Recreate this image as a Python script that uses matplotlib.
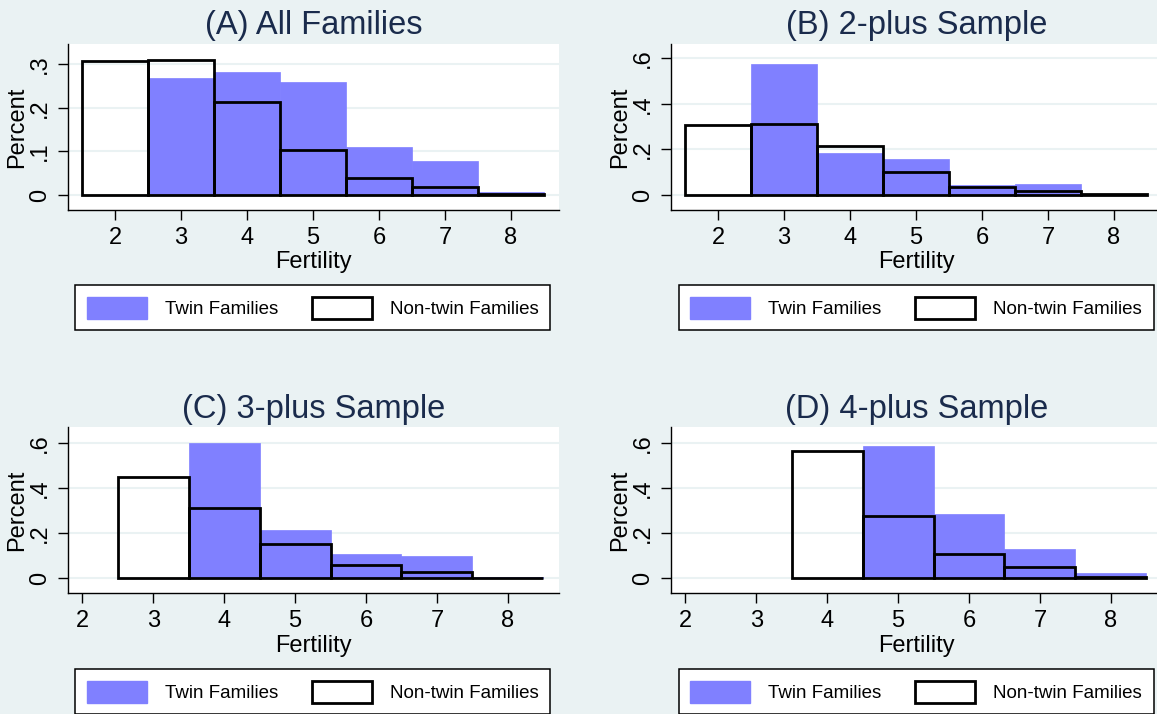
import matplotlib
matplotlib.use("Agg")
import matplotlib.pyplot as plt
from matplotlib.patches import Patch

plt.rcParams['font.family'] = ['Liberation Sans', 'DejaVu Sans']

# fertility values and histogram heights
fert_a = [2, 3, 4, 5, 6, 7, 8]
nontwin_a = [0.308, 0.311, 0.214, 0.103, 0.038, 0.019, 0.002]
fert_twin_a = [3, 4, 5, 6, 7, 8]
twin_a = [0.269, 0.283, 0.260, 0.111, 0.078, 0.006]

fert_b = [2, 3, 4, 5, 6, 7, 8]
nontwin_b = [0.308, 0.311, 0.214, 0.103, 0.037, 0.018, 0.003]
fert_twin_b = [3, 4, 5, 6, 7, 8]
twin_b = [0.573, 0.184, 0.159, 0.044, 0.049, 0.003]

fert_c = [3, 4, 5, 6, 7, 8]
nontwin_c = [0.450, 0.311, 0.154, 0.059, 0.028, 0.003]
fert_twin_c = [4, 5, 6, 7, 8]
twin_c = [0.600, 0.214, 0.109, 0.098, 0.004]

fert_d = [4, 5, 6, 7, 8]
nontwin_d = [0.565, 0.277, 0.106, 0.051, 0.007]
fert_twin_d = [5, 6, 7, 8]
twin_d = [0.584, 0.285, 0.129, 0.022]

titles = ['(A) All Families', '(B) 2-plus Sample', '(C) 3-plus Sample', '(D) 4-plus Sample']
xticks = [2, 3, 4, 5, 6, 7, 8]
yticks_small = [0, 0.1, 0.2, 0.3]
yticks_big = [0, 0.2, 0.4, 0.6]

bg = '#eaf2f3'
twin_col = '#8080ff'
title_col = '#1a2b4c'

W, H = 1157, 714
fig = plt.figure(figsize=(W / 100, H / 100), dpi=100, facecolor=bg)


def px_axes(x0, y0, x1, y1):
    # pixel box (from top-left) -> figure axes
    return fig.add_axes([x0 / W, 1 - y1 / H, (x1 - x0) / W, (y1 - y0) / H])


def tick_label(v):
    if v == 0:
        return '0'
    return ('%g' % v).lstrip('0')


panels = [
    (68, 44, 559, 210, fert_a, nontwin_a, fert_twin_a, twin_a, yticks_small, (-0.0344, 0.3466), (1.285, 8.73), (75.4, 286)),
    (671, 44, 1162, 210, fert_b, nontwin_b, fert_twin_b, twin_b, yticks_big, (-0.066, 0.663), (1.285, 8.73), (678.6, 286)),
    (68, 427.3, 559, 593.3, fert_c, nontwin_c, fert_twin_c, twin_c, yticks_big, (-0.066, 0.668), (1.8, 8.72), (75.4, 670)),
    (671, 427.3, 1162, 593.3, fert_d, nontwin_d, fert_twin_d, twin_d, yticks_big, (-0.066, 0.668), (1.8, 8.72), (678.6, 670)),
]

for i, (x0, y0, x1, y1, fx, nt, ftw, tw, yt, ylim, xlim, leg_pos) in enumerate(panels):
    ax = px_axes(x0, y0, x1, y1)
    ax.set_facecolor('white')
    ax.bar(ftw, tw, width=1, color=twin_col, edgecolor=twin_col, linewidth=0.5, zorder=2)
    ax.bar(fx, nt, width=1, fill=False, edgecolor='black', linewidth=2, zorder=3)

    ax.set_xlim(*xlim)
    ax.set_ylim(*ylim)
    ax.set_xticks(xticks)
    ax.set_yticks(yt)
    ax.set_yticklabels([tick_label(v) for v in yt], rotation=90, va='center')
    ax.tick_params(labelsize=17, length=7, width=1, color='black', pad=5)
    ax.grid(axis='y', color=bg, linewidth=1.5)
    ax.set_axisbelow(True)
    for s in ['top', 'right']:
        ax.spines[s].set_visible(False)
    for s in ['left', 'bottom']:
        ax.spines[s].set_linewidth(1)
        ax.spines[s].set_color('black')

    ax.set_title(titles[i], fontsize=23.5, color=title_col, pad=7)
    ax.set_xlabel('Fertility', fontsize=17, labelpad=2)
    ax.set_ylabel('Percent', fontsize=17, labelpad=1)

    handles = [Patch(facecolor=twin_col, edgecolor=twin_col),
               Patch(facecolor='white', edgecolor='black', linewidth=2)]
    lx, ly = leg_pos
    leg = ax.legend(handles, ['Twin Families', 'Non-twin Families'], ncol=2, mode='expand',
                    loc='upper left', bbox_to_anchor=(lx / W, 1 - ly / H, 475 / W, 0.001),
                    bbox_transform=fig.transFigure, borderaxespad=0, fontsize=13.5,
                    handlelength=3.2, handleheight=1.4, handletextpad=0.95, borderpad=0.62,
                    fancybox=False, framealpha=1, edgecolor='black')
    leg.get_frame().set_linewidth(1.1)

fig.savefig('out.png', dpi=100, facecolor=bg)
